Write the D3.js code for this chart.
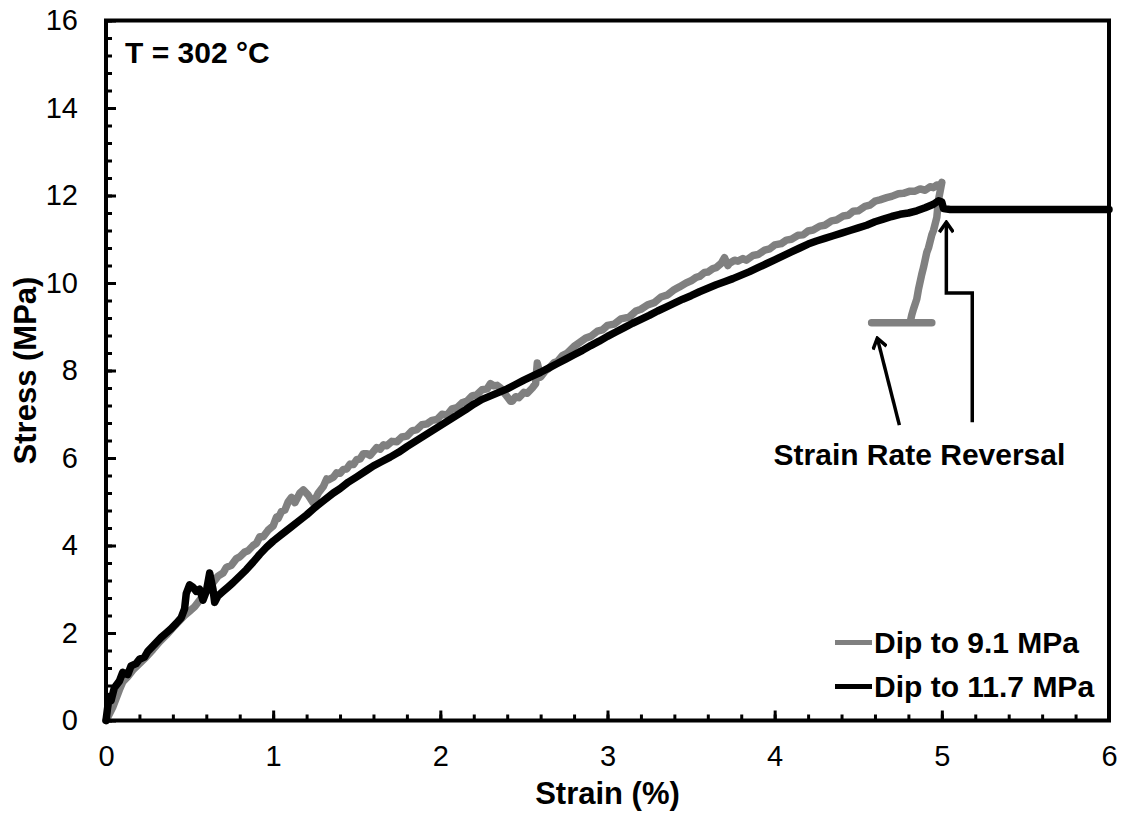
<!DOCTYPE html>
<html>
<head>
<meta charset="utf-8">
<script src="https://cdn.jsdelivr.net/npm/d3@7"></script>
<style>
  body { margin: 0; background: #fff; }
  svg text { font-family: "Liberation Sans", Arial, sans-serif; fill: #000; }
</style>
</head>
<body>
<div id="chart"></div>
<script>
// values: [strain %, stress MPa]
const dip91 = [
  [0,0],[0.02,0.15],[0.04,0.3],[0.06,0.5],[0.08,0.7],[0.1,0.88],[0.13,1.0],[0.16,1.15],[0.2,1.3],
  [0.24,1.45],[0.28,1.62],[0.32,1.8],[0.36,1.95],[0.4,2.12],[0.44,2.28],[0.47,2.4],[0.5,2.5],
  [0.53,2.6],[0.56,2.75],[0.6,2.95],[0.64,3.15],[0.67,3.3],[0.7,3.37],[0.72,3.5],[0.75,3.55],
  [0.78,3.7],[0.8,3.74],[0.83,3.85],[0.85,3.88],[0.88,4.0],[0.9,4.05],[0.92,4.2],[0.94,4.2],
  [0.97,4.35],[1.0,4.45],[1.02,4.65],[1.03,4.62],[1.05,4.78],[1.07,4.81],[1.09,5.0],[1.11,5.1],
  [1.13,4.98],[1.14,5.05],[1.16,5.2],[1.18,5.27],[1.21,5.15],[1.24,4.97],[1.27,5.2],[1.3,5.35],
  [1.32,5.52],[1.33,5.5],[1.36,5.56],[1.38,5.66],[1.4,5.65],[1.42,5.74],[1.44,5.75],[1.46,5.86],
  [1.48,5.85],[1.5,5.96],[1.52,5.98],[1.54,6.1],[1.56,6.1],[1.58,6.06],[1.6,6.15],[1.62,6.24],
  [1.64,6.2],[1.66,6.3],[1.68,6.28],[1.71,6.38],[1.74,6.37],[1.77,6.48],[1.8,6.5],[1.83,6.62],
  [1.86,6.65],[1.89,6.76],[1.92,6.78],[1.95,6.86],[1.98,6.88],[2.01,7.0],[2.04,6.98],[2.07,7.12],
  [2.1,7.15],[2.13,7.26],[2.16,7.3],[2.19,7.42],[2.22,7.45],[2.25,7.56],[2.28,7.58],[2.3,7.7],
  [2.32,7.65],[2.34,7.66],[2.36,7.6],[2.38,7.5],[2.4,7.4],[2.42,7.3],[2.43,7.3],[2.45,7.4],
  [2.47,7.38],[2.5,7.5],[2.52,7.48],[2.55,7.6],[2.57,7.7],[2.58,8.17],[2.6,7.85],[2.63,8.0],
  [2.65,8.05],[2.68,8.18],[2.7,8.2],[2.73,8.34],[2.76,8.4],[2.8,8.55],[2.83,8.63],[2.87,8.74],
  [2.9,8.78],[2.94,8.9],[2.97,8.93],[3.0,9.03],[3.04,9.06],[3.08,9.18],[3.13,9.22],[3.17,9.36],
  [3.2,9.4],[3.24,9.5],[3.28,9.55],[3.32,9.68],[3.36,9.73],[3.4,9.85],[3.43,9.91],[3.47,10.0],
  [3.5,10.05],[3.53,10.13],[3.55,10.15],[3.58,10.24],[3.6,10.25],[3.63,10.33],[3.65,10.35],
  [3.68,10.45],[3.7,10.58],[3.72,10.4],[3.73,10.45],[3.76,10.52],[3.78,10.5],[3.81,10.56],
  [3.83,10.52],[3.87,10.63],[3.9,10.65],[3.94,10.75],[3.97,10.78],[4.0,10.87],[4.04,10.9],
  [4.07,10.98],[4.1,11.0],[4.14,11.09],[4.17,11.1],[4.2,11.19],[4.23,11.21],[4.27,11.3],
  [4.3,11.32],[4.34,11.42],[4.37,11.44],[4.41,11.53],[4.44,11.55],[4.47,11.64],[4.5,11.65],
  [4.54,11.75],[4.57,11.78],[4.6,11.87],[4.63,11.9],[4.67,11.95],[4.7,11.98],[4.74,12.04],
  [4.77,12.05],[4.81,12.1],[4.84,12.1],[4.87,12.15],[4.9,12.12],[4.93,12.2],[4.95,12.18],
  [4.97,12.24],[4.99,12.22],[5.0,12.3],[4.98,11.9],[4.97,11.5],[4.95,11.2],[4.94,11.1],
  [4.92,10.8],[4.91,10.7],[4.89,10.35],[4.88,10.2],[4.86,9.85],[4.85,9.63],[4.83,9.4],
  [4.82,9.27],[4.81,9.09],[4.94,9.09],[4.58,9.09]
];

const dip117 = [
  [0,0],[0.01,0.3],[0.02,0.55],[0.03,0.45],[0.05,0.75],[0.08,0.9],[0.1,1.1],[0.13,1.05],
  [0.15,1.25],[0.18,1.3],[0.2,1.4],[0.23,1.45],[0.25,1.58],[0.28,1.7],[0.3,1.78],[0.33,1.9],
  [0.36,2.0],[0.39,2.1],[0.42,2.22],[0.45,2.35],[0.47,2.55],[0.48,2.9],[0.5,3.1],[0.52,3.05],
  [0.54,2.95],[0.56,3.0],[0.58,2.75],[0.6,2.95],[0.62,3.37],[0.64,3.0],[0.65,2.7],[0.67,2.85],
  [0.7,2.95],[0.73,3.05],[0.76,3.15],[0.8,3.3],[0.84,3.45],[0.88,3.62],[0.92,3.8],[0.96,3.96],
  [1.0,4.1],[1.05,4.25],[1.1,4.4],[1.16,4.58],[1.2,4.7],[1.25,4.87],[1.3,5.02],[1.36,5.2],
  [1.4,5.3],[1.45,5.45],[1.5,5.57],[1.56,5.72],[1.6,5.82],[1.65,5.92],[1.7,6.02],[1.75,6.13],
  [1.8,6.26],[1.85,6.38],[1.9,6.5],[1.95,6.62],[2.0,6.74],[2.05,6.86],[2.1,6.98],[2.15,7.1],
  [2.2,7.23],[2.25,7.34],[2.3,7.42],[2.35,7.5],[2.4,7.58],[2.45,7.68],[2.5,7.78],[2.55,7.87],
  [2.6,7.96],[2.65,8.06],[2.7,8.16],[2.75,8.26],[2.8,8.36],[2.85,8.46],[2.9,8.57],[2.95,8.67],
  [3.0,8.78],[3.05,8.88],[3.1,8.98],[3.15,9.08],[3.2,9.17],[3.25,9.26],[3.3,9.36],[3.35,9.45],
  [3.4,9.54],[3.45,9.63],[3.5,9.71],[3.55,9.8],[3.6,9.88],[3.65,9.96],[3.7,10.03],[3.75,10.1],
  [3.8,10.18],[3.85,10.26],[3.9,10.35],[3.95,10.44],[4.0,10.53],[4.05,10.62],[4.1,10.71],
  [4.15,10.8],[4.2,10.89],[4.25,10.96],[4.3,11.02],[4.35,11.08],[4.4,11.14],[4.45,11.2],
  [4.5,11.26],[4.55,11.32],[4.6,11.4],[4.65,11.46],[4.7,11.52],[4.75,11.57],[4.8,11.6],
  [4.85,11.65],[4.9,11.72],[4.95,11.8],[4.98,11.88],[5.0,11.85],[5.01,11.7],[5.05,11.68],
  [5.5,11.68],[6.0,11.68]
];

const seriesNames = ['Dip to 9.1 MPa', 'Dip to 11.7 MPa'];
const seriesColors = ['#808080', '#000000'];
const xTicks = [0, 1, 2, 3, 4, 5, 6];
const yTicks = [0, 2, 4, 6, 8, 10, 12, 14, 16];

// annotation arrows in data units
const arrowA = [[4.746, 6.75], [4.614, 8.74]];
const arrowB = [[5.182, 6.82], [5.182, 9.77], [5.027, 9.77], [5.027, 11.39]];
const noteAt = [4.866, 5.84];

const config = {
  width: 1124, height: 815,
  margin: { top: 20.5, right: 15, bottom: 94.5, left: 106 }
};
const innerW = 1109 - config.margin.left;
const innerH = 720.5 - config.margin.top;

const svg = d3.select('#chart').append('svg')
  .attr('width', config.width)
  .attr('height', config.height);

const g = svg.append('g')
  .attr('transform', `translate(${config.margin.left},${config.margin.top})`);

const x = d3.scaleLinear().domain([0, 6]).range([0, innerW]);
const y = d3.scaleLinear().domain([0, 16]).range([innerH, 0]);

// minor ticks (inward)
g.append('g').attr('transform', `translate(0,${innerH})`)
  .call(d3.axisBottom(x).tickValues(d3.range(0, 6.001, 0.2)).tickSize(-6).tickFormat(''))
  .call(s => s.select('.domain').remove())
  .call(s => s.selectAll('line').attr('stroke-width', 3));
g.append('g')
  .call(d3.axisLeft(y).tickValues(d3.range(0, 16.001, 0.4)).tickSize(-6).tickFormat(''))
  .call(s => s.select('.domain').remove())
  .call(s => s.selectAll('line').attr('stroke-width', 3));

// major ticks with labels
g.append('g').attr('transform', `translate(0,${innerH})`)
  .call(d3.axisBottom(x).tickValues(xTicks).tickSize(-10).tickPadding(25).tickFormat(d3.format('d')))
  .call(s => s.select('.domain').remove())
  .call(s => s.selectAll('line').attr('stroke-width', 3))
  .call(s => s.selectAll('text').attr('font-size', 29));
g.append('g')
  .call(d3.axisLeft(y).tickValues(yTicks).tickSize(-10).tickPadding(28).tickFormat(d3.format('d')))
  .call(s => s.select('.domain').remove())
  .call(s => s.selectAll('line').attr('stroke-width', 3))
  .call(s => s.selectAll('text').attr('font-size', 29));

// data lines
const line = d3.line().x(d => x(d[0])).y(d => y(d[1]));
[dip91, dip117].forEach((data, i) => {
  g.append('path')
    .datum(data)
    .attr('fill', 'none')
    .attr('stroke', seriesColors[i])
    .attr('stroke-width', 7.5)
    .attr('stroke-linejoin', 'round')
    .attr('stroke-linecap', 'round')
    .attr('d', line);
});

// frame
g.append('rect')
  .attr('width', innerW).attr('height', innerH)
  .attr('fill', 'none').attr('stroke', '#000').attr('stroke-width', 4);

// arrows
svg.append('defs').append('marker')
  .attr('id', 'head')
  .attr('markerUnits', 'userSpaceOnUse')
  .attr('viewBox', '-12 -8 14 16')
  .attr('markerWidth', 14).attr('markerHeight', 16)
  .attr('refX', 0).attr('refY', 0)
  .attr('orient', 'auto')
  .append('path')
  .attr('d', 'M-10,-7 L0,0 L-10,7')
  .attr('fill', 'none').attr('stroke', '#000').attr('stroke-width', 3.5);

[arrowA, arrowB].forEach(pts => {
  g.append('path')
    .datum(pts)
    .attr('fill', 'none')
    .attr('stroke', '#000')
    .attr('stroke-width', 3.5)
    .attr('marker-end', 'url(#head)')
    .attr('d', line);
});

g.append('text')
  .attr('x', x(noteAt[0])).attr('y', y(noteAt[1]))
  .attr('text-anchor', 'middle')
  .style('font-size', '30px').style('font-weight', 'bold')
  .text('Strain Rate Reversal');

g.append('text')
  .attr('x', 19).attr('y', 42)
  .style('font-size', '30px').style('font-weight', 'bold')
  .text('T = 302 °C');

// legend
const legend = g.append('g').attr('transform', `translate(${innerW - 274},${innerH - 78})`);
seriesNames.forEach((name, i) => {
  const row = legend.append('g').attr('transform', `translate(0,${i * 44})`);
  row.append('line')
    .attr('x1', 0).attr('x2', 37)
    .attr('stroke', seriesColors[i]).attr('stroke-width', 5);
  row.append('text')
    .attr('x', 39).attr('y', 10.5)
    .style('font-size', '30px').style('font-weight', 'bold')
    .text(name);
});

// axis titles
svg.append('text')
  .attr('x', config.margin.left + innerW / 2).attr('y', 804)
  .attr('text-anchor', 'middle')
  .style('font-size', '31px').style('font-weight', 'bold')
  .text('Strain (%)');

svg.append('text')
  .attr('transform', `translate(36,${config.margin.top + innerH / 2}) rotate(-90)`)
  .attr('text-anchor', 'middle')
  .style('font-size', '31px').style('font-weight', 'bold')
  .text('Stress (MPa)');
</script>
</body>
</html>
